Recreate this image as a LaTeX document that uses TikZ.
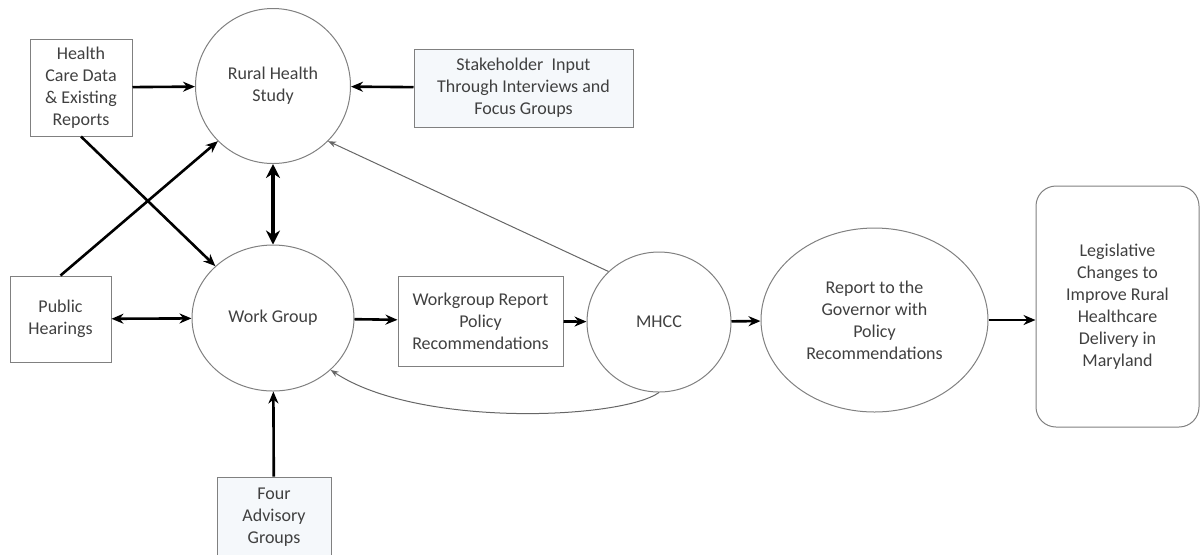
\documentclass[tikz,border=0pt]{standalone}
\usepackage{fontspec}
\setmainfont{Carlito}
\usetikzlibrary{shapes.geometric,arrows.meta}
\definecolor{paleblue}{HTML}{F5F8FB}
\tikzset {>={Stealth[length=6pt,width=5pt]}}
\tikzset{
  box/.style={draw=black!50, line width=0.5pt, inner sep=0pt, align=center,
    text=black!75, font=\fontsize{9}{11}\selectfont},
  bubble/.style={box, ellipse},
  link/.style={->, line width=1.3pt},
  feedback/.style={-{Stealth[length=4pt,width=3pt]}, draw=black!60, line width=0.5pt}
}

\begin{document}
\begin{tikzpicture}[x=0.5pt,y=-0.5pt]
\useasboundingbox (0,0) rectangle (1200,554);

% Place study, inputs and work group
\node[bubble, minimum width=77.5pt, minimum height=77.5pt] (rhs) at (273,86) {Rural Health\\Study};
\node[box, minimum width=51pt, minimum height=48.5pt] (hcd) at (81,87.5) {Health\\Care Data\\\& Existing\\Reports};
\node[box, fill=paleblue, minimum width=109.5pt, minimum height=39pt] (shi) at (523.5,88) {Stakeholder~ Input\\Through Interviews and\\Focus Groups};
\node[bubble, minimum width=81pt, minimum height=73pt] (wg) at (273,318) {Work Group};
\node[box, minimum width=50.5pt, minimum height=43pt] (ph) at (60.5,319) {Public\\Hearings};
\node[box, fill=paleblue, minimum width=57pt, minimum height=40pt] (fag) at (274,517) {Four\\Advisory\\Groups};

% Place the chain to the legislature
\node[box, minimum width=82.5pt, minimum height=45pt] (wgr) at (480.5,321) {Workgroup Report\\Policy\\Recommendations};
\node[bubble, minimum width=72pt, minimum height=70pt] (mhcc) at (659,322) {MHCC};
\node[bubble, minimum width=113.5pt, minimum height=92pt] (gov) at (874.5,320) {Report to the\\Governor with\\Policy\\Recommendations};
\node[box, rounded corners=10pt, minimum width=81.5pt, minimum height=120.5pt] (leg) at (1117.5,306.5) {Legislative\\Changes to\\Improve Rural\\Healthcare\\Delivery in\\Maryland};

% Inputs to the study
\draw[link] (hcd) -- (rhs);
\draw[link] (shi) -- (rhs);
\draw[link] (hcd.south) -- (wg.138);
\draw[link] (ph.north) -- (rhs.225);

% Study and work group
\draw[line width=2pt, {Stealth[length=7pt,width=7pt]}-{Stealth[length=7pt,width=7pt]}] (rhs) -- (wg);
\draw[link, <->] (ph) -- (wg);
\draw[link] (fag) -- (wg);

% Main flow
\draw[link] (wg) -- (wgr);
\draw[link] (wgr) -- (mhcc);
\draw[link] (mhcc) -- (gov);
\draw[link] (gov.east) -- (gov.east -| leg.west);

% Feedback from MHCC
\draw[feedback] (mhcc.135) -- (rhs.-45);
\draw[feedback] (mhcc.south) .. controls +(-38,27) and +(87,58) .. (wg.-42);

\end{tikzpicture}
\end{document}
